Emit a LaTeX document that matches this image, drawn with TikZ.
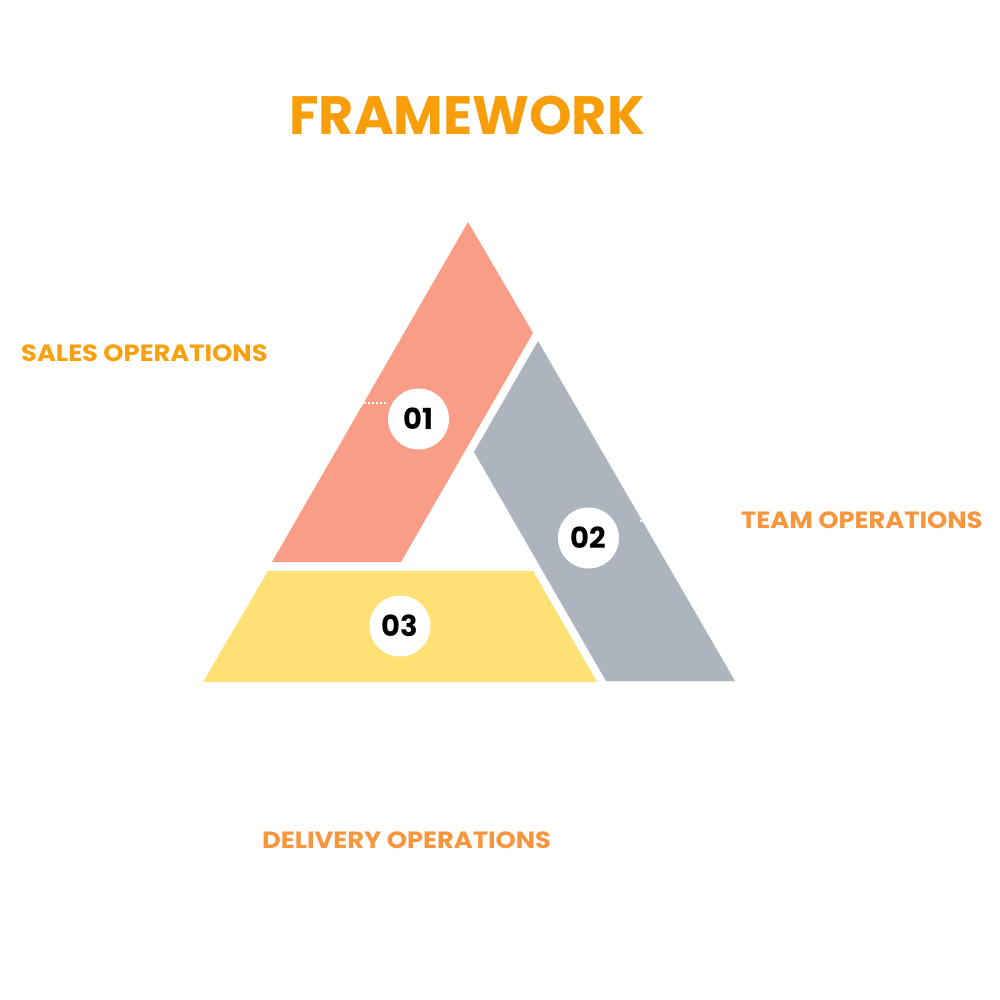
\documentclass[tikz,border=0pt]{standalone}
\usepackage{fontspec}
\usepackage{graphicx}
\setmainfont{Poppins}[UprightFont=*-Bold]
\definecolor{titleor}{RGB}{247,158,10}
\definecolor{salesor}{RGB}{247,161,14}
\definecolor{teamor}{RGB}{247,150,60}
\definecolor{salmon}{RGB}{250,157,135}
\definecolor{grayblue}{RGB}{174,180,190}
\definecolor{yellowf}{RGB}{254,225,117}
\newcommand{\widetext}[1]{\scalebox{1.095}[1]{#1}}
\tikzset{
  numcirc/.style={circle,fill=white,minimum size=61pt,inner sep=0pt,font=\fontsize{29}{29}\selectfont,text=black},
  lbl/.style={inner sep=0pt,font=\fontsize{23.5}{23.5}\selectfont},
  guide/.style={white,dotted,line width=2pt}
}
\begin{document}
\begin{tikzpicture}[x=1pt,y=-1pt]
\useasboundingbox[fill=white] (0,0) rectangle (1000,1000);
\node[inner sep=0pt,text=titleor,font=\fontsize{54}{54}\selectfont] (title) at (467,115) {FRAMEWORK};
% segments
\fill[salmon] (468,222) -- (533,333) -- (401,562) -- (272,562) -- cycle;
\fill[grayblue] (538,341) -- (735,681) -- (606,681) -- (474,452) -- cycle;
\fill[yellowf] (268,571) -- (533,571) -- (597,682) -- (203,682) -- cycle;
% circles
\node[numcirc] (c1) at (418.5,419) {01};
\node[numcirc] (c2) at (588.5,538) {02};
\node[numcirc] (c3) at (400,626) {03};
% labels
\node[lbl,text=salesor,anchor=west] (sales) at (21,353) {\widetext{SALES OPERATIONS}};
\node[lbl,text=teamor,anchor=west] (team) at (741,520) {\widetext{TEAM OPERATIONS}};
\node[lbl,text=teamor,anchor=west] (deliv) at (262,840) {\widetext{DELIVERY OPERATIONS}};
% guides
\coordinate (g1) at (300,403);
\coordinate (g1e) at (388,403);
\draw[guide] (g1) -- (g1e);
\coordinate (g2) at (640,521);
\coordinate (g2e) at (700,521);
\draw[guide] (g2) -- (g2e);
\end{tikzpicture}
\end{document}
